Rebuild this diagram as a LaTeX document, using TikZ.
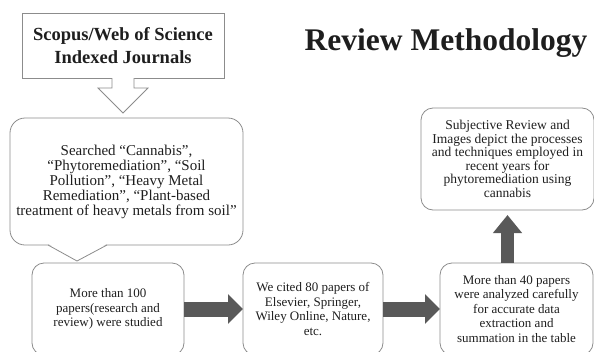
\documentclass[tikz,border=0pt]{standalone}
\usepackage{fontspec}
\setmainfont{Liberation Serif}
\usetikzlibrary{
	arrows.meta,
	positioning,
	calc
}
\definecolor{linegray}{HTML}{8C8C8C}
\definecolor{arrowgray}{HTML}{595959}
\definecolor{textgray}{HTML}{1E1E1E}

\begin{document}
\begin{tikzpicture}[x=1pt, y=-1pt, line width=0.8pt,
	every node/.style={text=textgray, outer sep=0pt},
	flowbox/.style={draw=linegray, rounded corners=12pt, align=center, inner sep=3pt, font=\fontsize{13}{14.5}\selectfont},
	blockarrow/.style={draw=arrowgray, line width=15pt, -{Triangle[length=15pt, width=29pt]}},
	uparrow/.style={draw=arrowgray, line width=13pt, -{Triangle[length=18pt, width=28pt]}},
	hollowarrow/.style={draw=linegray, fill=white}]

		\useasboundingbox (0,0) rectangle (594,351);
		\clip (0,0) rectangle (594,351);

		\node[draw=linegray, minimum width=202pt, minimum height=65pt, align=center,
			font=\bfseries\fontsize{18.5}{23}\selectfont] (journals) at (123,45.5) {Scopus/Web of Science\\Indexed Journals};

		\node[font=\bfseries\fontsize{31.5}{36}\selectfont, anchor=base] (title) at (446,50) {Review Methodology};

		% hollow arrow down to the search box
		\draw[hollowarrow] (journals.south) ++(-11,0) -- ++(0,10) -- ++(-14,0) -- ++(25,25) coordinate (jtip)
			-- ++(25,-25) -- ++(-14,0) -- ++(0,-10);

		\node[draw=linegray, rounded corners=15pt, minimum width=233pt, minimum height=127pt, align=center,
			font=\fontsize{15}{15}\selectfont] (search) at (126.5,181.5)
			{Searched “Cannabis”,\\“Phytoremediation”, “Soil\\Pollution”, “Heavy Metal\\Remediation”, “Plant-based\\treatment of heavy metals from soil”};

		% callout pointer
		\coordinate (pa) at ($(search.south west)+(38,0)$);
		\coordinate (pb) at ($(search.south west)+(97,0)$);
		\coordinate (ptip) at ($(search.south west)+(67,16)$);
		\fill[white] ($(pa)+(0.6,-1)$) -- (ptip) -- ($(pb)+(-0.6,-1)$) -- cycle;
		\draw[linegray] (pa) -- (ptip) -- (pb);

		\node[flowbox, minimum width=152pt, minimum height=92pt] (papers) at (108,309)
			{More than 100\\papers(research and\\review) were studied};
		\node[flowbox, minimum width=140pt, minimum height=92pt, right=59pt of papers] (cited)
			{We cited 80 papers of\\Elsevier, Springer,\\Wiley Online, Nature,\\etc.};
		\node[flowbox, minimum width=153pt, minimum height=92pt, right=57pt of cited] (analyzed)
			{More than 40 papers\\were analyzed carefully\\for accurate data\\extraction and\\summation in the table};
		\node[flowbox, minimum width=173pt, minimum height=102pt, font=\fontsize{13.5}{13.5}\selectfont] (review) at (507.5,159)
			{Subjective Review and\\Images depict the processes\\and techniques employed in\\recent years for\\phytoremediation using\\cannabis};

		\draw[blockarrow] (papers.east) -- (cited.west);
		\draw[blockarrow] (cited.east) -- (analyzed.west);
		\draw[uparrow, shorten >=5pt] (review.south |- analyzed.north) -- (review.south);

	\end{tikzpicture}
\end{document}
